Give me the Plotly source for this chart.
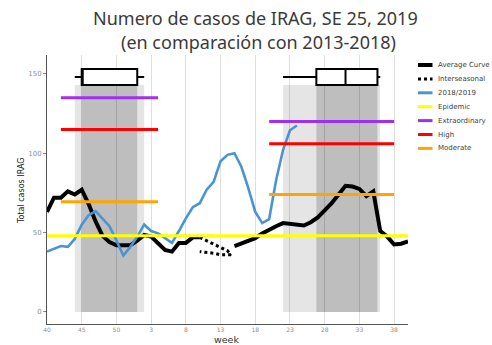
import plotly.graph_objects as go

# Season runs from epidemiological week 40 to week 40 of the following year
season_weeks = list(range(40, 53)) + list(range(1, 41))
tick_weeks = [40, 45, 50, 3, 8, 13, 18, 23, 28, 33, 38]


def pos(week):
    """Position of an epidemiological week (first occurrence) on the season axis."""
    return week - 40 if week >= 40 else week + 12


# Average curve (gap during the interseasonal weeks)
average_curve = [63, 72, 72, 76, 74, 77, 68, 57, 48, 44, 42, 42, 42, 45, 48.5,
                 47.5, 43, 39, 38, 43.5, 43.5, 47, 47, None, None, None, None,
                 41.5, 43, 44.5, 46.5, 49.5, 52, 54, 56, 55.5, 55.5, 54.5, 56.5,
                 59.5, 64, 68.5, 74, 79.5, 79, 77.5, 73, 76, 51, 47.5, 42.5, 43,
                 44.5]

# Interseasonal trace
interseasonal_weeks = [10, 11, 12, 13, 14, 14.5, 14, 13, 12, 11, 10]
interseasonal_cases = [47, 45, 43, 41, 38.5, 36, 36, 36, 37, 37.5, 38]

# Current season 2018/2019
current_season = [38, 40, 41.5, 41, 46, 55, 61, 63.5, 59, 54, 45, 35.5, 41,
                  47.5, 55, 51, 49.5, 46.5, 43.5, 51, 59, 66, 68.5, 77, 82, 95,
                  99, 100, 91.5, 78, 63, 56, 58.5, 83, 102, 114.5, 117.5]

# Alert thresholds for each of the two seasonal periods
period_weeks = [(42, 4), (20, 38)]
extraordinary = [135, 120]
high = [115, 106]
moderate = [69.5, 74]
epidemic = 48

# Season start/end distribution (weeks) for each period
box_lower = [44, 22]
box_q1 = [45, 26.8]
box_median = [45, 31]
box_q3 = [1, 35.6]
box_upper = [2, 36]
box_level = 148
box_height = 10

x_all = list(range(len(season_weeks)))
x_end = x_all[-1]

fig = go.Figure()

# shaded seasons behind the curves
shapes = []
for lo, q1, q3, hi in zip(box_lower, box_q1, box_q3, box_upper):
    top = box_level - box_height / 2
    shapes.append(dict(type="rect", xref="x", yref="y", x0=pos(lo), x1=pos(hi),
                       y0=0, y1=top, fillcolor="rgba(0,0,0,0.10)",
                       line=dict(width=0), layer="between"))
    shapes.append(dict(type="rect", xref="x", yref="y", x0=pos(q1), x1=pos(q3),
                       y0=0, y1=top, fillcolor="rgba(0,0,0,0.17)",
                       line=dict(width=0), layer="between"))

fig.add_trace(go.Box(
    y=[box_level, box_level], orientation="h",
    lowerfence=[pos(w) for w in box_lower], q1=[pos(w) for w in box_q1],
    median=[pos(w) for w in box_median], q3=[pos(w) for w in box_q3],
    upperfence=[pos(w) for w in box_upper], width=box_height,
    fillcolor="white", line=dict(color="black", width=2), whiskerwidth=0,
    boxpoints=False, showlegend=False, hoverinfo="skip"))

fig.add_trace(go.Scatter(x=x_all, y=average_curve, mode="lines",
                         line=dict(color="black", width=4),
                         name="Average Curve", connectgaps=False))
fig.add_trace(go.Scatter(x=[pos(w) for w in interseasonal_weeks],
                         y=interseasonal_cases, mode="lines",
                         line=dict(color="black", width=3, dash="dot"),
                         name="Interseasonal"))
fig.add_trace(go.Scatter(x=x_all[:len(current_season)], y=current_season,
                         mode="lines", line=dict(color="#4b94d2", width=2.6),
                         name="2018/2019"))

threshold_colors = {"Epidemic": "#ffff00", "Extraordinary": "#a12ff0",
                    "High": "#ff0000", "Moderate": "#ffa500"}

fig.add_trace(go.Scatter(x=[0, x_end], y=[epidemic, epidemic], mode="lines",
                         line=dict(color=threshold_colors["Epidemic"], width=3),
                         name="Epidemic"))
for name, levels in [("Extraordinary", extraordinary), ("High", high),
                     ("Moderate", moderate)]:
    xs, ys = [], []
    for (w0, w1), lvl in zip(period_weeks, levels):
        xs += [pos(w0), pos(w1), None]
        ys += [lvl, lvl, None]
    fig.add_trace(go.Scatter(x=xs, y=ys, mode="lines",
                             line=dict(color=threshold_colors[name], width=3),
                             name=name))

# legend drawn at the right of the plot area
L, R, T, B = 47, 84, 55, 21
W, H = 492 - L - R, 345 - T - B
def px_x(p):
    return (p - L) / W
def px_y(p):
    return (345 - B - p) / H

legend_items = [("Average Curve", "black", 4, "solid"),
                ("Interseasonal", "black", 3, "dot"),
                ("2018/2019", "#4b94d2", 3, "solid"),
                ("Epidemic", threshold_colors["Epidemic"], 3, "solid"),
                ("Extraordinary", threshold_colors["Extraordinary"], 3, "solid"),
                ("High", threshold_colors["High"], 3, "solid"),
                ("Moderate", threshold_colors["Moderate"], 3, "solid")]
annotations = []
for k, (label, color, width, dash) in enumerate(legend_items):
    yy = px_y(65 + k * 13.9)
    shapes.append(dict(type="line", xref="paper", yref="paper",
                       x0=px_x(418), x1=px_x(432.5), y0=yy, y1=yy,
                       line=dict(color=color, width=width, dash=dash)))
    annotations.append(dict(x=px_x(435.5), y=yy, xref="paper", yref="paper",
                            text=label, showarrow=False, xanchor="left",
                            yanchor="middle",
                            font=dict(family="DejaVu Sans", size=7,
                                      color="#404040")))

title_font = dict(family="Noto Sans", size=18, color="#3a3a3a")
annotations.append(dict(x=px_x(255), y=px_y(18), xref="paper", yref="paper",
                        xanchor="center", yanchor="middle", showarrow=False,
                        text="Numero de casos de IRAG, SE 25, 2019",
                        font=title_font))
annotations.append(dict(x=px_x(258), y=px_y(42.5), xref="paper", yref="paper",
                        xanchor="center", yanchor="middle", showarrow=False,
                        text="(en comparación con 2013-2018)",
                        font=title_font))

# axis titles
annotations.append(dict(x=px_x(226), y=px_y(339.5), xref="paper", yref="paper",
                        xanchor="center", yanchor="middle", showarrow=False,
                        text="week", borderpad=0,
                        font=dict(family="DejaVu Sans", size=9.5,
                                  color="#333333")))
annotations.append(dict(x=px_x(21), y=px_y(191), xref="paper", yref="paper",
                        xanchor="center", yanchor="middle", showarrow=False,
                        text="Total casos IRAG", textangle=-90,
                        font=dict(family="DejaVu Sans", size=8,
                                  color="#222222")))

fig.update_layout(
    width=492, height=345,
    margin=dict(l=L, r=R, t=T, b=B, autoexpand=False),
    paper_bgcolor="white", plot_bgcolor="white",
    showlegend=False,
    shapes=shapes, annotations=annotations,
    xaxis=dict(range=[0, x_end], tickvals=[pos(w) for w in tick_weeks],
               ticktext=[str(w) for w in tick_weeks], automargin=False,
               showgrid=True, gridcolor="#dedede", gridwidth=1,
               zeroline=False, showline=True, linecolor="#555555", linewidth=1,
               ticks="", ticklabelstandoff=0,
               tickfont=dict(family="DejaVu Sans", size=6, color="#909090")),
    yaxis=dict(range=[-7.6, 161.9], tickvals=[0, 50, 100, 150],
               automargin=False,
               showgrid=False, zeroline=False, showline=True,
               linecolor="#555555", linewidth=1,
               ticks="outside", ticklen=3, tickcolor="#888888",
               tickfont=dict(family="DejaVu Sans", size=7, color="#909090")),
)

fig.write_html("out.html")
